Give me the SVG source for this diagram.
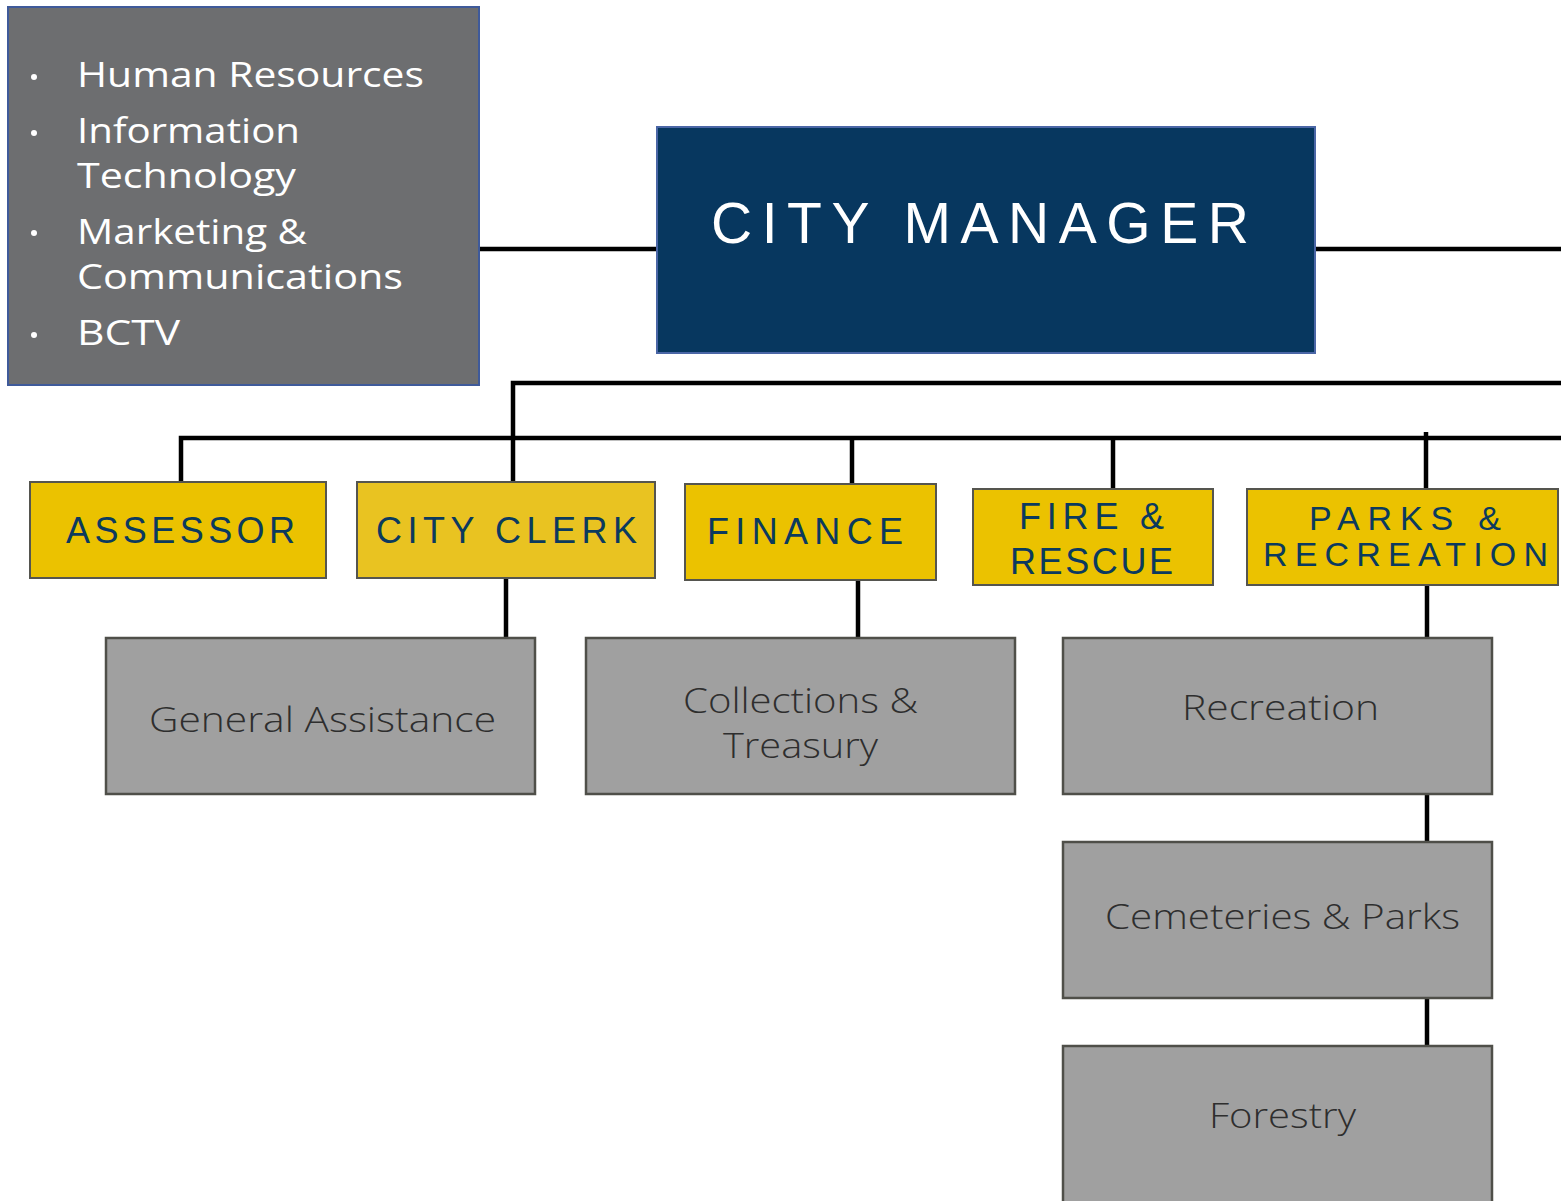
<svg xmlns="http://www.w3.org/2000/svg" width="1561" height="1201" viewBox="0 0 1561 1201">
<style>
.conn{stroke:#000;stroke-width:4.5;fill:none}
.sup{fill:#6d6e70;stroke:#3f5a9a;stroke-width:2}
.mgr{fill:#07375f;stroke:#4a66a6;stroke-width:2}
.dept{fill:#ebc200;stroke:#55554f;stroke-width:2}
.div{fill:#a0a0a0;stroke:#4f4f49;stroke-width:2.5}
.wt{font-family:"Open Sans","Liberation Sans",sans-serif;font-size:34px;fill:#fff}
.mt{font-family:"Liberation Sans",sans-serif;font-size:57px;fill:#fff}
.dt{font-family:"Liberation Sans",sans-serif;font-size:36px;fill:#0b3a5e}
.gt{font-family:"Open Sans","Liberation Sans",sans-serif;font-weight:300;font-size:35px;fill:#2e2e2e}
</style>
<g id="connectors">
<line class="conn" x1="479" y1="249" x2="657" y2="249"/>
<line class="conn" x1="1315" y1="249" x2="1561" y2="249"/>
<polyline class="conn" points="513,482 513,383 1561,383"/>
<polyline class="conn" points="181,482 181,438 1561,438"/>
<line class="conn" x1="852" y1="438" x2="852" y2="484"/>
<line class="conn" x1="1113" y1="438" x2="1113" y2="489"/>
<line class="conn" x1="1426" y1="432" x2="1426" y2="489"/>
<line class="conn" x1="506" y1="578" x2="506" y2="638"/>
<line class="conn" x1="858" y1="580" x2="858" y2="638"/>
<line class="conn" x1="1427" y1="585" x2="1427" y2="638"/>
<line class="conn" x1="1427" y1="794" x2="1427" y2="842"/>
<line class="conn" x1="1427" y1="998" x2="1427" y2="1046"/>
</g>
<g id="support">
<rect class="sup" x="8" y="7" width="471" height="378"/>
<circle cx="34" cy="77" r="3" fill="#fff"/>
<circle cx="34" cy="133" r="3" fill="#fff"/>
<circle cx="34" cy="233" r="3" fill="#fff"/>
<circle cx="34" cy="335" r="3" fill="#fff"/>
<text class="wt" x="77" y="87" textLength="347" lengthAdjust="spacingAndGlyphs">Human Resources</text>
<text class="wt" x="77" y="143" textLength="223" lengthAdjust="spacingAndGlyphs">Information</text>
<text class="wt" x="77" y="188" textLength="219" lengthAdjust="spacingAndGlyphs">Technology</text>
<text class="wt" x="77" y="244" textLength="230" lengthAdjust="spacingAndGlyphs">Marketing &amp;</text>
<text class="wt" x="77" y="289" textLength="326" lengthAdjust="spacingAndGlyphs">Communications</text>
<text class="wt" x="77" y="345" textLength="103" lengthAdjust="spacingAndGlyphs">BCTV</text>
</g>
<g id="city-manager">
<rect class="mgr" x="657" y="127" width="658" height="226"/>
<text class="mt" x="711" y="243" textLength="538" lengthAdjust="spacing">CITY MANAGER</text>
</g>
<g id="assessor">
<rect class="dept" x="30" y="482" width="296" height="96"/>
<text class="dt" x="66" y="543" textLength="229" lengthAdjust="spacing">ASSESSOR</text>
</g>
<g id="city-clerk">
<rect class="dept" x="357" y="482" width="298" height="96" style="fill:#e9c321"/>
<text class="dt" x="376" y="543" textLength="261" lengthAdjust="spacing">CITY CLERK</text>
</g>
<g id="finance">
<rect class="dept" x="685" y="484" width="251" height="96"/>
<text class="dt" x="707" y="544" textLength="196" lengthAdjust="spacing">FINANCE</text>
</g>
<g id="fire-rescue">
<rect class="dept" x="973" y="489" width="240" height="96"/>
<text class="dt" x="1019" y="529" textLength="145" lengthAdjust="spacing">FIRE &amp;</text>
<text class="dt" x="1010" y="574" textLength="163" lengthAdjust="spacing">RESCUE</text>
</g>
<g id="parks-recreation">
<rect class="dept" x="1247" y="489" width="311" height="96"/>
<text class="dt" x="1309" y="530" textLength="192" lengthAdjust="spacing" style="font-size:34px">PARKS &amp;</text>
<text class="dt" x="1263" y="566" textLength="285" lengthAdjust="spacing" style="font-size:34px">RECREATION</text>
</g>
<g id="general-assistance">
<rect class="div" x="106" y="638" width="429" height="156"/>
<text class="gt" x="149" y="732" textLength="347" lengthAdjust="spacingAndGlyphs">General Assistance</text>
</g>
<g id="collections-treasury">
<rect class="div" x="586" y="638" width="429" height="156"/>
<text class="gt" x="683" y="713" textLength="235" lengthAdjust="spacingAndGlyphs">Collections &amp;</text>
<text class="gt" x="723" y="758" textLength="155" lengthAdjust="spacingAndGlyphs">Treasury</text>
</g>
<g id="recreation">
<rect class="div" x="1063" y="638" width="429" height="156"/>
<text class="gt" x="1182" y="720" textLength="197" lengthAdjust="spacingAndGlyphs">Recreation</text>
</g>
<g id="cemeteries-parks">
<rect class="div" x="1063" y="842" width="429" height="156"/>
<text class="gt" x="1105" y="929" textLength="355" lengthAdjust="spacingAndGlyphs">Cemeteries &amp; Parks</text>
</g>
<g id="forestry">
<rect class="div" x="1063" y="1046" width="429" height="160"/>
<text class="gt" x="1209" y="1128" textLength="147" lengthAdjust="spacingAndGlyphs">Forestry</text>
</g>
</svg>
